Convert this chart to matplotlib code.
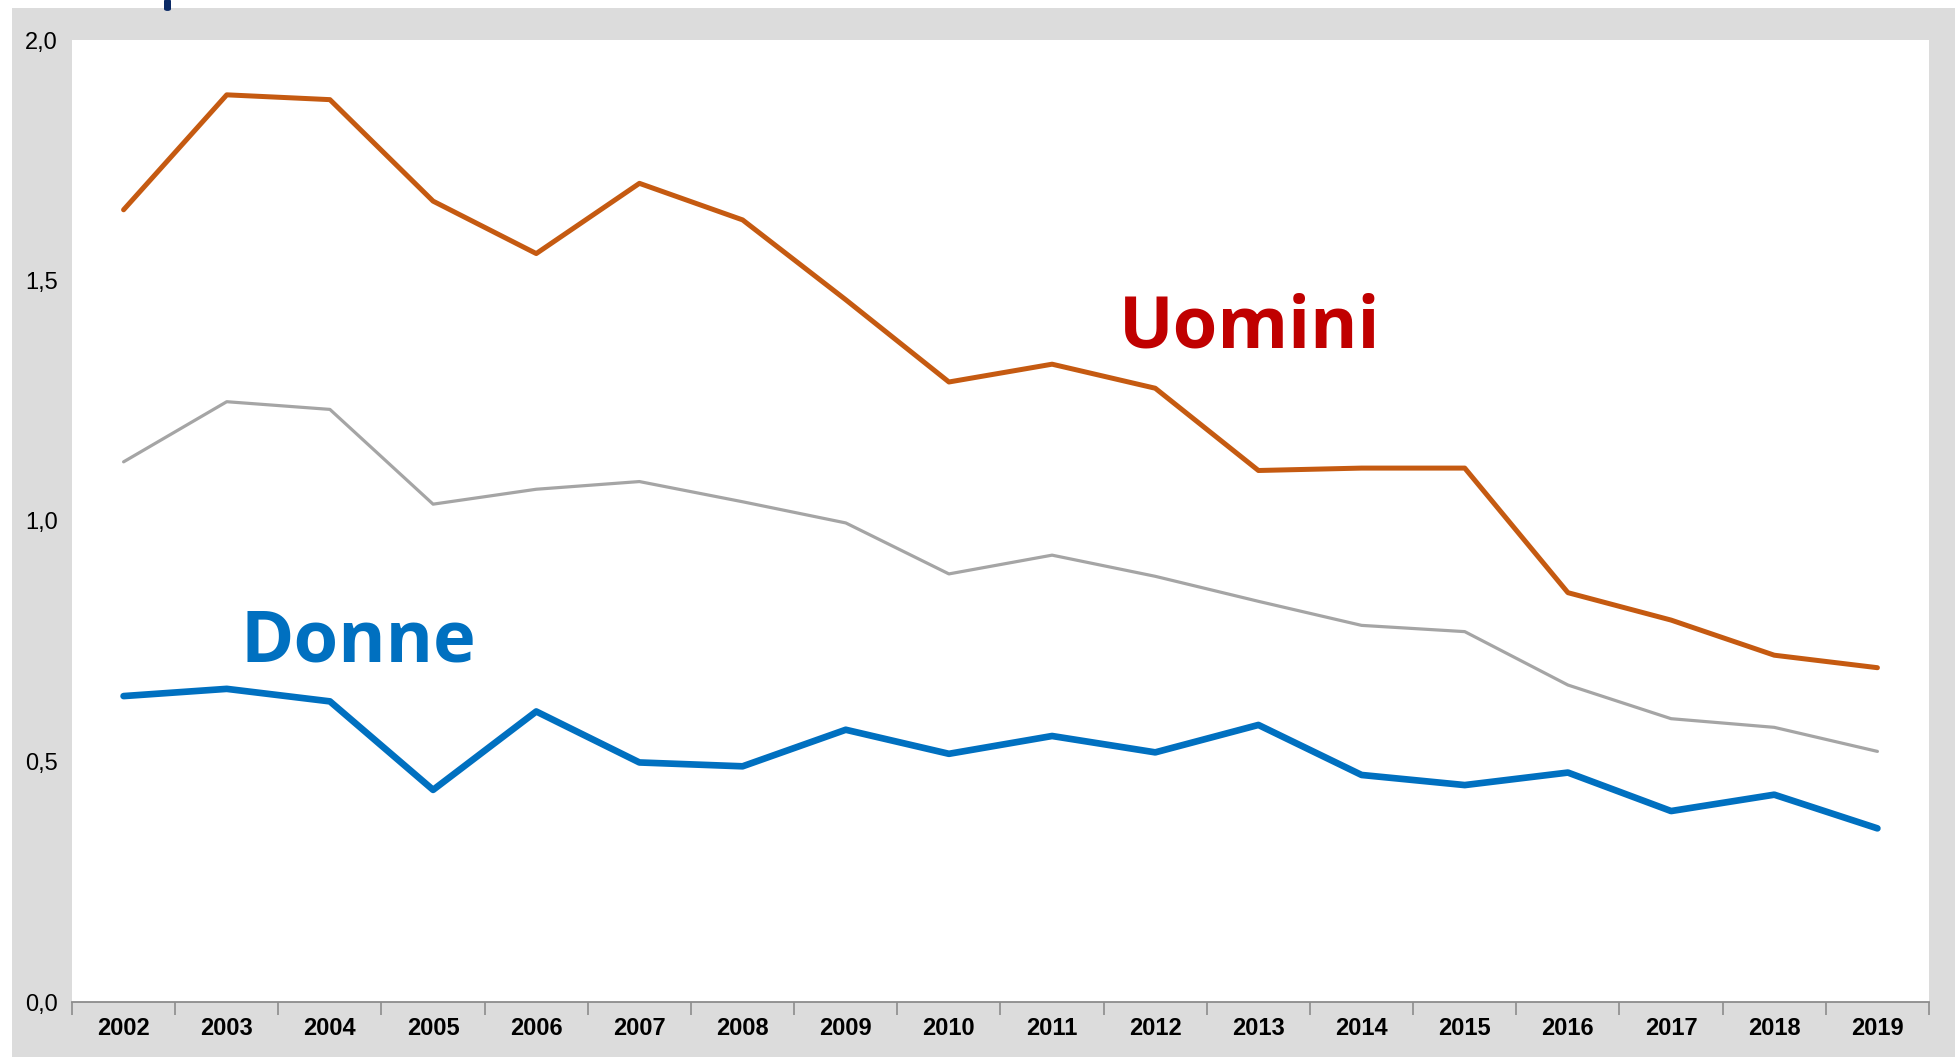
import matplotlib.pyplot as plt
from matplotlib.patches import Rectangle, FancyBboxPatch
import numpy as np

anni = ['2002', '2003', '2004', '2005', '2006', '2007', '2008', '2009', '2010',
        '2011', '2012', '2013', '2014', '2015', '2016', '2017', '2018', '2019']
uomini = [1.647, 1.886, 1.876, 1.665, 1.556, 1.702, 1.626, 1.460, 1.289,
          1.326, 1.276, 1.105, 1.110, 1.110, 0.851, 0.794, 0.721, 0.695]
totale = [1.123, 1.248, 1.232, 1.035, 1.066, 1.082, 1.040, 0.996, 0.890,
          0.929, 0.885, 0.833, 0.783, 0.770, 0.659, 0.589, 0.571, 0.521]
donne = [0.636, 0.651, 0.625, 0.441, 0.604, 0.498, 0.490, 0.566, 0.516,
         0.553, 0.519, 0.576, 0.472, 0.451, 0.477, 0.397, 0.431, 0.361]

W, H = 1956, 1057
fig = plt.figure(figsize=(W / 100, H / 100), dpi=100)
fig.patch.set_facecolor('white')

# pannello grigio di sfondo
fig.patches.append(Rectangle((12 / W, 0), 1 - 12 / W, 1 - 8 / H,
                             transform=fig.transFigure, fc='#dcdcdc', ec='none', zorder=-2))
# pezzo di titolo tagliato in alto
fig.patches.append(FancyBboxPatch((164 / W, 1 - 11 / H), 7 / W, 12 / H,
                                  boxstyle='round,pad=0,rounding_size=0.002',
                                  transform=fig.transFigure, fc='#0b2a66', ec='none', zorder=-1))

ax = fig.add_axes([72 / W, 1 - 1002 / H, (1929 - 72) / W, (1002 - 40) / H])
ax.set_zorder(2)
ax.set_facecolor('white')

x = np.arange(len(anni))
ax.plot(x, totale, color='#a5a5a5', lw=2.3, solid_capstyle='round')
ax.plot(x, uomini, color='#c55a11', lw=3.6, solid_capstyle='round')
ax.plot(x, donne, color='#0070c0', lw=4.8, solid_capstyle='round')

ax.set_xlim(-0.5, len(anni) - 0.5)
ax.set_ylim(0, 2.0)

ax.set_xticks(x)
ax.set_xticklabels(anni, fontfamily='Liberation Sans', fontweight='bold', fontsize=17)
ax.set_xticks(np.arange(len(anni) + 1) - 0.5, minor=True)
ax.tick_params(axis='x', which='major', length=0, pad=11)
ax.tick_params(axis='x', which='minor', length=9, color='#8c8c8c', width=1.2)

ax.set_yticks([0, 0.5, 1.0, 1.5, 2.0])
ax.set_yticklabels(['0,0', '0,5', '1,0', '1,5', '2,0'], fontfamily='Liberation Sans', fontsize=17)
ax.tick_params(axis='y', length=0, pad=10)

for s in ['top', 'right', 'left']:
    ax.spines[s].set_visible(False)
ax.spines['bottom'].set_color('#8c8c8c')
ax.spines['bottom'].set_linewidth(1.3)

ax.text(1250 / W, 1 - 328 / H, 'Uomini', transform=fig.transFigure, color='#c00000',
        fontfamily='Open Sans', fontweight='bold', fontsize=52, ha='center', va='center')
ax.text(358 / W, 1 - 643 / H, 'Donne', transform=fig.transFigure, color='#0070c0',
        fontfamily='Open Sans', fontweight='bold', fontsize=52, ha='center', va='center')

fig.savefig('out.png', dpi=100)
